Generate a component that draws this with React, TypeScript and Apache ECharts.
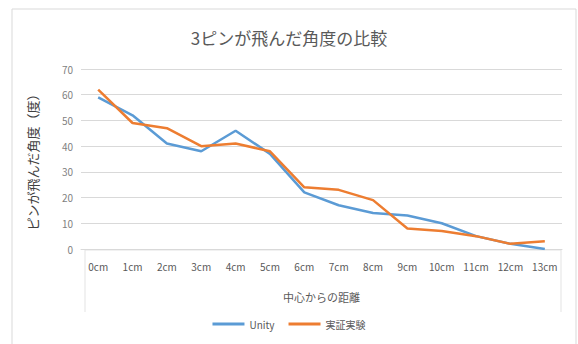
import React, { useEffect, useRef } from "react";
import * as echarts from "echarts";

const categories = ["0cm", "1cm", "2cm", "3cm", "4cm", "5cm", "6cm", "7cm", "8cm", "9cm", "10cm", "11cm", "12cm", "13cm"];
const unityValues = [59, 52, 41, 38, 46, 37, 22, 17, 14, 13, 10, 5, 2, 0];
const experimentValues = [62, 49, 47, 40, 41, 38, 24, 23, 19, 8, 7, 5, 2, 3];
const yTicks = { min: 0, max: 70, interval: 10 };

const FONT = '"Noto Sans CJK JP", "Noto Sans", sans-serif';

export default function App() {
  const ref = useRef<HTMLDivElement>(null);

  useEffect(() => {
    if (!ref.current) return;
    const chart = echarts.init(ref.current, undefined, { renderer: "svg" });
    chart.setOption({
      animation: false,
      backgroundColor: "#ffffff",
      textStyle: { fontFamily: FONT },
      title: {
        text: "3ピンが飛んだ角度の比較",
        left: "center",
        top: 24,
        textStyle: { fontSize: 17, fontWeight: "normal", color: "#595959", fontFamily: FONT },
      },
      graphic: [
        {
          type: "rect",
          shape: { x: 12, y: 9, width: 564, height: 340 },
          style: { fill: "none", stroke: "#d9d9d9", lineWidth: 1 },
          silent: true,
        },
        {
          type: "polyline",
          shape: { points: [[85, 312], [85, 250], [561, 250], [561, 312]] },
          style: { fill: "none", stroke: "#e3e3e3", lineWidth: 1 },
          silent: true,
        },
      ],
      legend: {
        bottom: 10,
        left: "center",
        itemWidth: 32,
        itemHeight: 3,
        itemGap: 14,
        icon: "rect",
        textStyle: { fontSize: 10, color: "#595959", fontFamily: FONT },
        data: ["Unity", "実証実験"],
      },
      grid: { left: 81, right: 16, top: 69, bottom: 95 },
      xAxis: {
        type: "category",
        data: categories,
        boundaryGap: true,
        name: "中心からの距離",
        nameLocation: "middle",
        nameGap: 42,
        nameTextStyle: { fontSize: 11, color: "#595959", fontFamily: FONT },
        axisLine: { show: true, lineStyle: { color: "#d9d9d9" } },
        axisTick: { show: false },
        axisLabel: { fontSize: 10, color: "#595959", margin: 12, interval: 0, fontFamily: FONT },
      },
      yAxis: {
        type: "value",
        min: yTicks.min,
        max: yTicks.max,
        interval: yTicks.interval,
        name: "ピンが飛んだ角度（度）",
        nameLocation: "middle",
        nameGap: 42,
        nameRotate: 90,
        nameTextStyle: { fontSize: 13, color: "#404040", fontFamily: FONT },
        axisLine: { show: false },
        axisTick: { show: false },
        axisLabel: { fontSize: 10, color: "#7f7f7f", margin: 8, fontFamily: FONT },
        splitLine: { lineStyle: { color: "#d9d9d9", width: 1 } },
      },
      series: [
        {
          name: "Unity",
          type: "line",
          data: unityValues,
          symbol: "none",
          lineStyle: { color: "#5B9BD5", width: 2.5 },
          itemStyle: { color: "#5B9BD5" },
        },
        {
          name: "実証実験",
          type: "line",
          data: experimentValues,
          symbol: "none",
          lineStyle: { color: "#ED7D31", width: 2.5 },
          itemStyle: { color: "#ED7D31" },
        },
      ],
    });
    return () => chart.dispose();
  }, []);

  return (
    <div
      ref={ref}
      style={{ width: 578, height: 344, position: "absolute", left: 0, top: 0 }}
    />
  );
}
